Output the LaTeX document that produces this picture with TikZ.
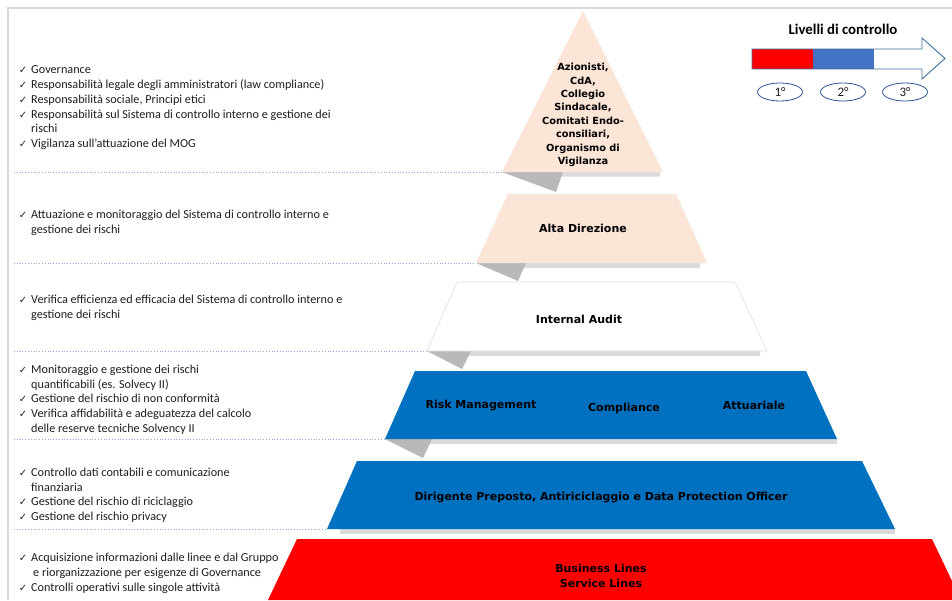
\documentclass[tikz,border=0pt]{standalone}
\usepackage{fontspec}
\setmainfont{Carlito}
\newfontfamily\boldsans{DejaVu Sans}
\newfontfamily\symfont{DejaVu Sans}
\usetikzlibrary{shapes.geometric}
\definecolor{peach}{HTML}{FBE5D6}
\definecolor{blueL}{HTML}{0070C0}
\definecolor{redL}{HTML}{FF0000}
\definecolor{arrblue}{HTML}{4472C4}
\definecolor{arrline}{HTML}{41719C}
\definecolor{ellline}{HTML}{2F5597}
\definecolor{dotc}{HTML}{8FAADC}
\definecolor{txt}{HTML}{1E1E1E}
\definecolor{framec}{HTML}{D9D9D9}
\newcommand{\ck}{\llap{{\symfont\fontsize{10}{10}\selectfont ✓}\hspace{4pt}}}
\newcommand{\fs}{\rule{0pt}{10pt}}
\begin{document}
\begin{tikzpicture}[x=1pt,y=-1pt,
  lefttext/.style={anchor=north west, inner sep=0pt, align=left, font=\fontsize{12.2}{14.8}\selectfont, text=txt},
  lvl/.style={inner sep=0pt, align=center, font=\boldsans\bfseries\fontsize{11}{13.4}\selectfont, text=black},
  sepline/.style={dotc, dotted, line width=0.8pt},
  fold/.style={fill=gray!55},
  strip/.style={fill=gray!28},
  levelell/.style={ellipse, draw=ellline, line width=0.8pt, minimum width=45pt, minimum height=18pt, inner sep=0pt, font=\fontsize{13}{14}\selectfont, text=txt}
]
\useasboundingbox (0,0) rectangle (952,600);
\fill[white] (0,0) rectangle (952,600);
% frame
\draw[framec, line width=1.5pt] (8,600) -- (8,8) -- (952,8);

% separators
\draw[sepline] (14,172) -- (502,172);
\draw[sepline] (14,263) -- (476,263);
\draw[sepline] (14,351) -- (427,351);
\draw[sepline] (14,439) -- (385,439);
\draw[sepline] (14,529) -- (327,529);

% shadows
\fill[strip] (556,172) -- (660,172) -- (660,176.5) -- (560,176.5) -- cycle;
\fill[fold] (502,172) -- (556,192) -- (563,172) -- cycle;
\fill[strip] (518,263) -- (700,263) -- (700,268) -- (522,268) -- cycle;
\fill[fold] (476,263) -- (518,281) -- (526,263) -- cycle;
\fill[strip] (462,351) -- (760,351) -- (760,356) -- (466,356) -- cycle;
\fill[fold] (427,351) -- (462,369) -- (471,351) -- cycle;
\fill[strip] (423,439) -- (837,439) -- (837,444) -- (427,444) -- cycle;
\fill[fold] (385,439) -- (423,458) -- (432,439) -- cycle;
\fill[strip] (340,529) -- (895,529) -- (895,534) -- (340,534) -- cycle;

% layers
\fill[peach] (583,11) -- (663,172) -- (502,172) -- cycle;
\fill[peach] (508,194) -- (676,194) -- (707,263) -- (476,263) -- cycle;
\filldraw[fill=white, draw=gray!25, line width=0.6pt] (457,282) -- (735,282) -- (767,351) -- (427,351) -- cycle;
\fill[blueL] (415,371) -- (806,371) -- (837,439) -- (385,439) -- cycle;
\fill[blueL] (357,461) -- (862,461) -- (895,529) -- (327,529) -- cycle;
\fill[redL] (297,539) -- (932,539) -- (952,581) -- (952,600) -- (268,600) -- cycle;

% layer labels
\node[lvl, font=\boldsans\bfseries\fontsize{9.8}{13.4}\selectfont] (l1) at (583,115) {Azionisti,\\CdA,\\Collegio\\Sindacale,\\Comitati Endo-\\consiliari,\\Organismo di\\Vigilanza};
\node[lvl] (l2) at (583,228) {Alta Direzione};
\node[lvl] (l3) at (579,319) {Internal Audit};
\node[lvl] (l4a) at (481,405) {Risk Management};
\node[lvl] (l4b) at (624,408) {Compliance};
\node[lvl] (l4c) at (754,405) {Attuariale};
\node[lvl] (l5) at (601,497) {Dirigente Preposto, Antiriciclaggio e Data Protection Officer};
\node[lvl, font=\boldsans\bfseries\fontsize{11}{15}\selectfont] (l6) at (601,575.5) {Business Lines\\Service Lines};

% left descriptions
\node[lefttext] (d1) at (31,63.5) {\fs\ck Governance\\
\ck Responsabilità legale degli amministratori (law compliance)\\
\ck Responsabilità sociale, Principi etici\\
\ck Responsabilità sul Sistema di controllo interno e gestione dei\\
rischi\\
\ck Vigilanza sull’attuazione del MOG};
\node[lefttext] (d2) at (31,208.5) {\fs\ck Attuazione e monitoraggio del Sistema di controllo interno e\\
gestione dei rischi};
\node[lefttext] (d3) at (31,293) {\fs\ck Verifica efficienza ed efficacia del Sistema di controllo interno e\\
gestione dei rischi};
\node[lefttext] (d4) at (31,363) {\fs\ck Monitoraggio e gestione dei rischi\\
quantificabili (es. Solvecy II)\\
\ck Gestione del rischio di non conformità\\
\ck Verifica affidabilità e adeguatezza del calcolo\\
delle reserve tecniche Solvency II};
\node[lefttext] (d5) at (31,466) {\fs\ck Controllo dati contabili e comunicazione\\
finanziaria\\
\ck Gestione del rischio di riciclaggio\\
\ck Gestione del rischio privacy};
\node[lefttext] (d6) at (31,551.5) {\fs\ck Acquisizione informazioni dalle linee e dal Gruppo\\
\hspace{2pt}e riorganizzazione per esigenze di Governance\\
\ck Controlli operativi sulle singole attività};

% legend
\node[inner sep=0pt, font=\bfseries\fontsize{14.8}{16}\selectfont, text=black] (lt) at (843,29) {Livelli di controllo};
\fill[white] (752,49) -- (922,49) -- (922,38) -- (945,58.5) -- (922,79) -- (922,69) -- (752,69) -- cycle;
\fill[redL] (752,49) rectangle (813,69);
\fill[arrblue] (813,49) rectangle (874,69);
\draw[arrline, line width=0.9pt, line join=miter] (752,49) -- (922,49) -- (922,38) -- (945,58.5) -- (922,79) -- (922,69) -- (752,69) -- cycle;
\node[levelell] (e1) at (780,92) {1°};
\node[levelell] (e2) at (843,92) {2°};
\node[levelell] (e3) at (905,92) {3°};
\end{tikzpicture}
\end{document}
